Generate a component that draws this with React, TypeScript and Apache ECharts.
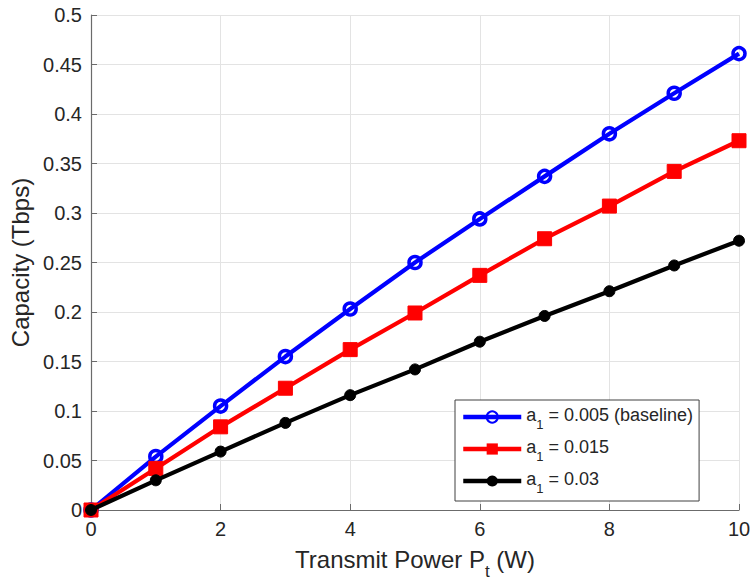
import React, { useEffect, useRef } from "react";
import * as echarts from "echarts";

const xValues = [0, 1, 2, 3, 4, 5, 6, 7, 8, 9, 10];
const seriesNames = ["a1 = 0.005 (baseline)", "a1 = 0.015", "a1 = 0.03"];
const legendMain = [" = 0.005 (baseline)", " = 0.015", " = 0.03"];
const blueValues = [0, 0.054, 0.105, 0.155, 0.203, 0.25, 0.294, 0.337, 0.38, 0.421, 0.461];
const redValues = [0, 0.042, 0.084, 0.123, 0.162, 0.199, 0.237, 0.274, 0.307, 0.342, 0.373];
const blackValues = [0, 0.03, 0.059, 0.088, 0.116, 0.142, 0.17, 0.196, 0.221, 0.247, 0.272];

const FONT = "'Liberation Sans', Arial, Helvetica, sans-serif";
const TEXT_COLOR = "#262626";

export default function App() {
  const ref = useRef<HTMLDivElement>(null);
  useEffect(() => {
    document.body.style.margin = "0";
    const chart = echarts.init(ref.current!, null, { renderer: "svg" });
    const toPairs = (vals: number[]) => xValues.map((x, i) => [x, vals[i]]);
    const lineW = 4.2;
    chart.setOption({
      animation: false,
      backgroundColor: "#ffffff",
      textStyle: { fontFamily: FONT },
      grid: { left: 91, right: 15, top: 15, bottom: 75 },
      legend: {
        orient: "vertical",
        left: 455,
        top: 400,
        selectedMode: false,
        backgroundColor: "#ffffff",
        borderColor: "#404040",
        borderWidth: 1,
        borderRadius: 0,
        padding: [6, 6, 6, 6],
        itemWidth: 58,
        itemHeight: 14,
        itemGap: 7,
        lineStyle: { width: 4.5 },
        data: seriesNames,
        formatter: (name: string) => {
          const i = seriesNames.indexOf(name);
          return "{n|a}{s|1}{n|" + legendMain[i] + "}";
        },
        textStyle: {
          fontFamily: FONT,
          color: TEXT_COLOR,
          rich: {
            n: { fontSize: 18, lineHeight: 22, verticalAlign: "top", color: TEXT_COLOR, fontFamily: FONT },
            s: { fontSize: 13, lineHeight: 13, padding: [12, 0, 0, 0], verticalAlign: "top", color: TEXT_COLOR, fontFamily: FONT },
          },
        },
      },
      xAxis: {
        type: "value",
        min: 0,
        max: 10,
        interval: 2,
        name: "{n|Transmit Power P}{s|t}{n| (W)}",
        nameLocation: "middle",
        nameGap: 37,
        nameTextStyle: {
          rich: {
            n: { fontSize: 24, lineHeight: 28, verticalAlign: "top", color: TEXT_COLOR, fontFamily: FONT },
            s: { fontSize: 17, lineHeight: 17, padding: [16, 0, 0, 0], verticalAlign: "top", color: TEXT_COLOR, fontFamily: FONT },
          },
        },
        axisLine: { show: true, lineStyle: { color: "#6b6b6b", width: 1.2 } },
        axisTick: { show: true, inside: true, length: 6, lineStyle: { color: "#6b6b6b" } },
        axisLabel: { fontSize: 20, color: TEXT_COLOR, margin: 9, fontFamily: FONT },
        splitLine: { show: true, lineStyle: { color: "#e3e3e3", width: 1 } },
      },
      yAxis: {
        type: "value",
        min: 0,
        max: 0.5,
        interval: 0.05,
        name: "Capacity (Tbps)",
        nameLocation: "middle",
        nameGap: 56,
        nameTextStyle: { fontSize: 24, color: TEXT_COLOR, fontFamily: FONT },
        axisLine: { show: true, lineStyle: { color: "#6b6b6b", width: 1.2 } },
        axisTick: { show: true, inside: true, length: 6, lineStyle: { color: "#6b6b6b" } },
        axisLabel: { fontSize: 20, color: TEXT_COLOR, margin: 9, fontFamily: FONT },
        splitLine: { show: true, lineStyle: { color: "#e3e3e3", width: 1 } },
      },
      series: [
        {
          name: seriesNames[0],
          type: "line",
          data: toPairs(blueValues),
          symbol: "circle",
          symbolSize: 12,
          lineStyle: { color: "#0000ff", width: lineW },
          itemStyle: { color: "rgba(255,255,255,0)", borderColor: "#0000ff", borderWidth: 3.5 },
          z: 2,
        },
        {
          name: seriesNames[1],
          type: "line",
          data: toPairs(redValues),
          symbol: "rect",
          symbolSize: 14,
          lineStyle: { color: "#ff0000", width: lineW },
          itemStyle: { color: "#ff0000", borderColor: "#ff0000" },
          z: 3,
        },
        {
          name: seriesNames[2],
          type: "line",
          data: toPairs(blackValues),
          symbol: "circle",
          symbolSize: 11,
          lineStyle: { color: "#000000", width: lineW },
          itemStyle: { color: "#000000", borderColor: "#000000" },
          z: 4,
        },
      ],
    });
    return () => chart.dispose();
  }, []);
  return <div ref={ref} style={{ width: 754, height: 585, position: "fixed", left: 0, top: 0 }} />;
}
